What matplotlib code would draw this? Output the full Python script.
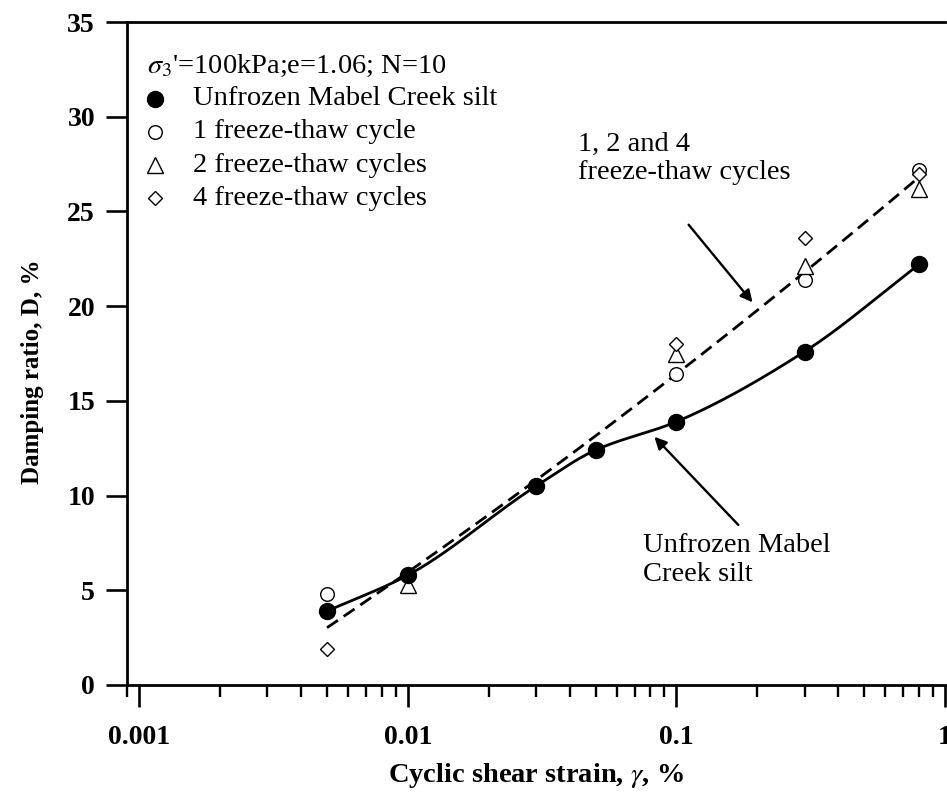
import numpy as np
import matplotlib
matplotlib.use("Agg")
import matplotlib.pyplot as plt
from matplotlib.ticker import LogLocator, NullFormatter, FixedLocator, FixedFormatter

plt.rcParams['font.family'] = ['Liberation Serif', 'DejaVu Serif']
plt.rcParams['mathtext.fontset'] = 'stix'
plt.rcParams['lines.scale_dashes'] = False

# Cyclic shear strain (%) and damping ratio (%) for each specimen condition
strain_unfrozen = [0.005, 0.01, 0.03, 0.05, 0.1, 0.3, 0.8]
damping_unfrozen = [3.9, 5.8, 10.5, 12.4, 13.9, 17.6, 22.2]

strain_ft1 = [0.005, 0.01, 0.1, 0.3, 0.8]
damping_ft1 = [4.8, 5.8, 16.4, 21.4, 27.2]

strain_ft2 = [0.01, 0.1, 0.3, 0.8]
damping_ft2 = [5.3, 17.5, 22.1, 26.2]

strain_ft4 = [0.005, 0.01, 0.1, 0.3, 0.8]
damping_ft4 = [1.9, 5.8, 18.0, 23.6, 27.0]

# Trend curve drawn for the freeze-thaw specimens
trend_ft_strain = [0.005, 0.01, 0.03, 0.05, 0.1, 0.3, 0.8]
trend_ft_damping = [3.06, 5.9, 10.8, 13.2, 16.4, 21.8, 26.8]

x_ticks = [0.001, 0.01, 0.1, 1]
x_tick_labels = ['0.001', '0.01', '0.1', '1']
y_ticks = [0, 5, 10, 15, 20, 25, 30, 35]


def pchip(x, y, xq):
    """Monotone cubic Hermite interpolation (Fritsch-Carlson)."""
    x = np.asarray(x, float)
    y = np.asarray(y, float)
    h = np.diff(x)
    d = np.diff(y) / h
    m = np.zeros_like(y)
    for k in range(1, len(x) - 1):
        if d[k - 1] * d[k] > 0:
            w1 = 2 * h[k] + h[k - 1]
            w2 = h[k] + 2 * h[k - 1]
            m[k] = (w1 + w2) / (w1 / d[k - 1] + w2 / d[k])
    m[0] = d[0]
    m[-1] = d[-1]
    idx = np.clip(np.searchsorted(x, xq) - 1, 0, len(h) - 1)
    t = (xq - x[idx]) / h[idx]
    h00 = 2 * t**3 - 3 * t**2 + 1
    h10 = t**3 - 2 * t**2 + t
    h01 = -2 * t**3 + 3 * t**2
    h11 = t**3 - t**2
    return h00 * y[idx] + h10 * h[idx] * m[idx] + h01 * y[idx + 1] + h11 * h[idx] * m[idx + 1]


fig = plt.figure(figsize=(9.47, 7.96), dpi=100)
ax = fig.add_axes([127 / 947, 111 / 796, 818 / 947, 663 / 796])

ax.set_xscale('log')
ax.set_xlim(0.0009, 1.0)
ax.set_ylim(0, 35)

# Smooth curve through the unfrozen data (in log-strain space)
lx = np.log10(strain_unfrozen)
xq = np.linspace(lx[0], lx[-1], 300)
ax.plot(10**xq, pchip(lx, damping_unfrozen, xq), color='black', lw=2.0,
        solid_capstyle='butt', zorder=2)

# Dashed trend for the freeze-thaw specimens
lt = np.log10(trend_ft_strain)
coef = np.polyfit(lt, trend_ft_damping, 2)
tq = np.linspace(lt[0], lt[-1], 300)
ax.plot(10**tq, np.polyval(coef, tq), color='black', lw=2.0,
        dashes=(9.5, 5), zorder=2)

mk = dict(linestyle='none', color='black', zorder=3, clip_on=False)
ax.plot(strain_ft1, damping_ft1, marker='o', ms=9.8, mfc='white', mec='black', mew=1.0, **mk)
ax.plot(strain_ft2, damping_ft2, marker='^', ms=11, mfc='white', mec='black', mew=1.0, **mk)
ax.plot(strain_ft4, damping_ft4, marker='D', ms=7.5, mfc='white', mec='black', mew=1.0, **mk)
ax.plot(strain_unfrozen, damping_unfrozen, marker='o', ms=11.5, mfc='black', mec='black', **mk)

# Axes styling
for side in ['left', 'bottom', 'top']:
    ax.spines[side].set_linewidth(2.0)
ax.spines['right'].set_visible(False)

ax.xaxis.set_major_locator(FixedLocator(x_ticks))
ax.xaxis.set_major_formatter(FixedFormatter(x_tick_labels))
ax.xaxis.set_minor_locator(LogLocator(base=10, subs=np.arange(2, 10), numticks=20))
ax.xaxis.set_minor_formatter(NullFormatter())
ax.yaxis.set_major_locator(FixedLocator(y_ticks))

ax.tick_params(axis='x', which='major', direction='out', length=15.8, width=1.9,
               pad=13, labelsize=20)
ax.tick_params(axis='x', which='minor', direction='out', length=8.6, width=1.7)
ax.tick_params(axis='y', which='major', direction='out', length=15, width=1.9,
               pad=8, labelsize=20)
ax.tick_params(top=False, right=False)
for lab in ax.get_xticklabels() + ax.get_yticklabels():
    lab.set_fontweight('bold')

ax.set_xlabel(r"Cyclic shear strain, $\gamma$, %", fontsize=20.5, fontweight='bold')
ax.set_ylabel("Damping ratio, D, %", fontsize=18, fontweight='bold')
ax.xaxis.set_label_coords(0.5, -0.114)
ax.yaxis.set_label_coords(-0.101, 0.472)

# Legend block
leg_fs = 20.5
ax.text(0.0244, 0.9336, r"$\sigma_3$'=100kPa;e=1.06; N=10", transform=ax.transAxes,
        fontsize=leg_fs, va='center', ha='left')
rows = [
    ('o', 'black', 11.5, "Unfrozen Mabel Creek silt"),
    ('o', 'white', 9.8, "1 freeze-thaw cycle"),
    ('^', 'white', 11, "2 freeze-thaw cycles"),
    ('D', 'white', 7.5, "4 freeze-thaw cycles"),
]
y0 = 0.8839
dy = 0.0498
for i, (m, fc, ms, label) in enumerate(rows):
    yy = y0 - i * dy
    ax.plot([0.0342], [yy], marker=m, ms=ms, mfc=fc, mec='black', mew=1.0,
            transform=ax.transAxes, clip_on=False, linestyle='none')
    ax.text(0.0807, yy, label, transform=ax.transAxes, fontsize=leg_fs,
            va='center', ha='left')

# Annotations with arrows
arrow = dict(arrowstyle='-|>', color='black', lw=1.7, mutation_scale=18,
             shrinkA=0, shrinkB=0)
ax.text(0.043, 27.8, "1, 2 and 4\nfreeze-thaw cycles", fontsize=leg_fs,
        ha='left', va='center', linespacing=1.2)
ax.annotate("", xy=(0.192, 20.2), xytext=(0.111, 24.3), arrowprops=arrow)
ax.text(0.075, 6.6, "Unfrozen Mabel\nCreek silt", fontsize=leg_fs, ha='left',
        va='center', linespacing=1.2)
ax.annotate("", xy=(0.0828, 13.1), xytext=(0.170, 8.45), arrowprops=arrow)

fig.savefig("out.png", dpi=100)
